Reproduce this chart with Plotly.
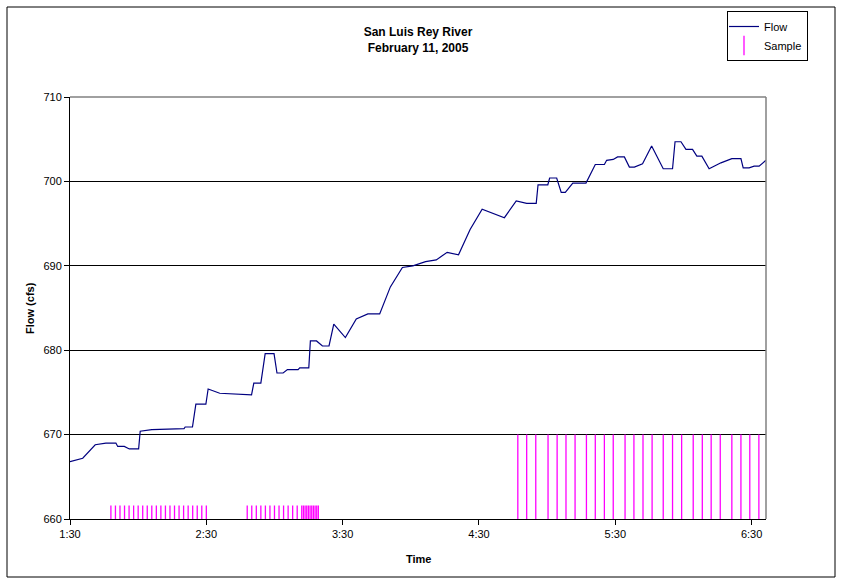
import plotly.graph_objects as go

DAY = "2005-02-11 "

# Flow series (time of day, cfs)
flow_times = [
    "01:30:00", "01:35:36", "01:41:06", "01:45:48", "01:50:12", "01:51:00", "01:53:54",
    "01:56:06", "02:00:12", "02:00:54", "02:06:00", "02:20:12", "02:20:42", "02:23:54",
    "02:25:24", "02:29:48", "02:30:48", "02:35:54", "02:49:54", "02:50:54", "02:54:00",
    "02:55:54", "02:59:48", "03:01:06", "03:03:48", "03:05:42", "03:10:24", "03:11:06",
    "03:15:06", "03:15:48", "03:18:30", "03:21:06", "03:24:00", "03:26:06", "03:31:12",
    "03:36:00", "03:41:06", "03:46:18", "03:51:00", "03:56:18", "04:00:54", "04:06:30",
    "04:11:12", "04:16:00", "04:21:00", "04:26:06", "04:31:24", "04:41:12", "04:46:24",
    "04:51:00", "04:55:12", "04:56:00", "05:00:18", "05:01:06", "05:04:12", "05:06:12",
    "05:08:00", "05:11:18", "05:17:06", "05:21:12", "05:25:12", "05:26:12", "05:29:06",
    "05:31:00", "05:34:00", "05:36:12", "05:38:24", "05:42:00", "05:46:00", "05:51:06",
    "05:55:12", "05:56:18", "05:58:54", "06:01:06", "06:04:00", "06:05:54", "06:08:06",
    "06:11:18", "06:16:30", "06:21:18", "06:25:18", "06:26:18", "06:28:54", "06:31:06",
    "06:33:18", "06:36:18",
]
flow_values = [
    666.8, 667.2, 668.8, 669.0, 669.0, 668.6, 668.6,
    668.3, 668.3, 670.4, 670.6, 670.7, 670.9, 670.9,
    673.6, 673.6, 675.4, 674.9, 674.7, 676.1, 676.1,
    679.6, 679.6, 677.3, 677.3, 677.7, 677.7, 677.9,
    677.9, 681.1, 681.1, 680.5, 680.5, 683.1, 681.5,
    683.7, 684.3, 684.3, 687.5, 689.8, 690.0, 690.5,
    690.7, 691.6, 691.3, 694.3, 696.7, 695.7, 697.7,
    697.4, 697.4, 699.6, 699.6, 700.4, 700.4, 698.7,
    698.7, 699.8, 699.8, 702.0, 702.0, 702.5, 702.6,
    702.9, 702.9, 701.7, 701.7, 702.1, 704.2, 701.5,
    701.5, 704.7, 704.7, 703.8, 703.8, 703.0, 703.0,
    701.5, 702.2, 702.7, 702.7, 701.6, 701.6, 701.8,
    701.8, 702.5,
]

# Sample events (time of day, marker top in cfs)
sample_times = [
    "01:48:00", "01:50:00", "01:52:00", "01:54:00", "01:56:00", "01:58:00", "02:00:00",
    "02:02:00", "02:04:00", "02:06:00", "02:08:00", "02:10:00", "02:12:00", "02:14:00",
    "02:16:00", "02:18:00", "02:20:00", "02:22:00", "02:24:00", "02:26:00", "02:28:00",
    "02:30:00",
    "02:48:00", "02:50:00", "02:52:00", "02:54:00", "02:56:00", "02:58:00", "03:00:00",
    "03:02:00", "03:04:00", "03:06:00", "03:08:00", "03:10:00",
    "03:12:00", "03:12:44", "03:13:28", "03:14:12", "03:14:56", "03:15:40", "03:16:24",
    "03:17:08", "03:17:52", "03:18:36", "03:19:18",
    "04:47:06", "04:51:00", "04:55:00", "05:00:24", "05:04:24", "05:08:18", "05:12:18",
    "05:17:18", "05:21:12", "05:25:12", "05:29:06", "05:34:18", "05:38:12", "05:42:12",
    "05:46:12", "05:51:06", "05:55:12", "05:59:12", "06:04:18", "06:08:18", "06:12:12",
    "06:16:12", "06:21:18", "06:25:18", "06:29:12", "06:33:12",
]
sample_values = [661.6] * 45 + [670.0] * 26

y_min, y_max = 660, 710
tick_times = ["01:30", "02:30", "03:30", "04:30", "05:30", "06:30"]
tick_labels = ["1:30", "2:30", "3:30", "4:30", "5:30", "6:30"]

# Build vertical sample bars from the baseline
sx, sy = [], []
for t, v in zip(sample_times, sample_values):
    sx += [DAY + t, DAY + t, None]
    sy += [y_min, v, None]

fig = go.Figure()
fig.add_trace(go.Scatter(
    x=[DAY + t for t in flow_times], y=flow_values, mode="lines", name="Flow",
    line=dict(color="#000080", width=1.2),
))
fig.add_trace(go.Scatter(
    x=sx, y=sy, mode="lines", name="Sample", showlegend=False, legendgroup="s",
    line=dict(color="#FF00FF", width=1.3),
))
fig.add_trace(go.Scatter(
    x=[None], y=[None], mode="markers", name="Sample", legendgroup="s",
    marker=dict(symbol="line-ns", size=14, color="#FF00FF",
                line=dict(color="#FF00FF", width=1.3)),
))

FONT = "Liberation Sans, Arial, sans-serif"
L, R, T, B = 70, 766, 97, 519
W, H = 842, 581
pw, ph = R - L, B - T

def px_x(p):
    return (p - L) / pw

def px_y(p):
    return (B - p) / ph

fig.update_layout(
    width=W, height=H,
    margin=dict(l=L, r=W - R, t=T, b=H - B, autoexpand=False),
    paper_bgcolor="white", plot_bgcolor="white",
    font=dict(family=FONT, size=11, color="black"),
    title=dict(text="<b>San Luis Rey River</b><br><b>February 11, 2005</b>",
               x=0.5, xref="paper", y=1 - 36 / H, yref="container",
               xanchor="center", yanchor="middle",
               font=dict(family=FONT, size=12, color="black")),
    showlegend=True,
    legend=dict(x=px_x(808), y=px_y(11), xanchor="right", yanchor="top",
                bordercolor="black", borderwidth=1, bgcolor="white",
                font=dict(family=FONT, size=11, color="black"), itemwidth=30,
                tracegroupgap=0, indentation=-4),
    xaxis=dict(type="date",
               range=[DAY + "01:30:00", DAY + "06:36:20"],
               tickvals=[DAY + t for t in tick_times], ticktext=tick_labels,
               showgrid=False, zeroline=False,
               showline=True, linecolor="black", linewidth=1,
               ticks="outside", ticklen=5, tickcolor="black",
               tickfont=dict(family=FONT, size=11, color="black")),
    yaxis=dict(range=[y_min, y_max], dtick=10, tick0=660,
               showgrid=True, gridcolor="black", gridwidth=1, zeroline=False,
               showline=True, linecolor="black", linewidth=1,
               ticks="outside", ticklen=5, tickcolor="black",
               tickfont=dict(family=FONT, size=11, color="black")),
    annotations=[
        dict(text="<b>Time</b>", x=0.5, y=px_y(559), xref="paper", yref="paper",
             showarrow=False, xanchor="center", yanchor="middle",
             font=dict(family=FONT, size=11, color="black")),
        dict(text="<b>Flow (cfs)</b>", x=px_x(30), y=0.5, xref="paper", yref="paper",
             showarrow=False, xanchor="center", yanchor="middle", textangle=-90,
             font=dict(family=FONT, size=11, color="black")),
    ],
    shapes=[
        dict(type="line", xref="paper", yref="paper", x0=0, x1=1, y0=1, y1=1,
             line=dict(color="#808080", width=1.5), layer="above"),
        dict(type="line", xref="paper", yref="paper", x0=1, x1=1, y0=0, y1=1,
             line=dict(color="#808080", width=1.5), layer="above"),
        dict(type="rect", xref="paper", yref="paper",
             x0=px_x(7), x1=px_x(835), y0=px_y(577), y1=px_y(7),
             line=dict(color="black", width=1), layer="below"),
    ],
)

fig.write_html(
    "out.html",
    config={"displayModeBar": False},
    post_script="document.body.style.margin='0';document.body.style.overflow='hidden';",
)
